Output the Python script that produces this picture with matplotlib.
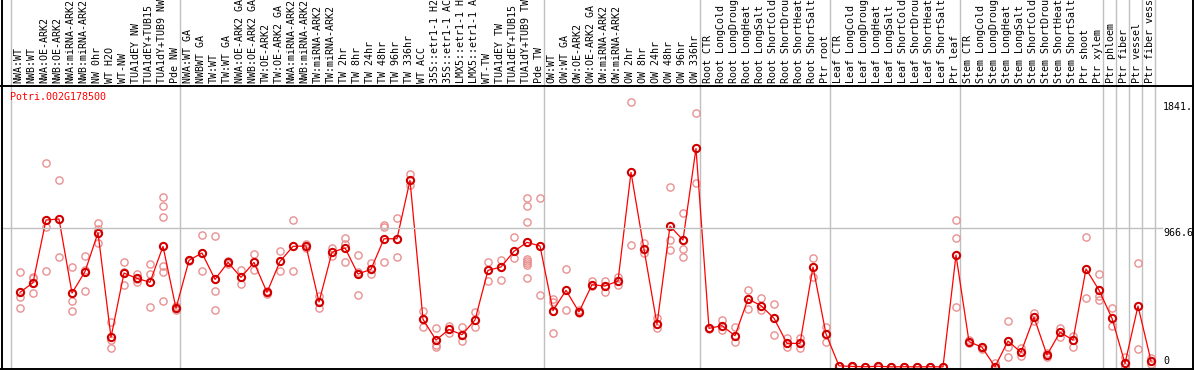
import matplotlib
matplotlib.use("Agg")
import matplotlib.pyplot as plt
from matplotlib.lines import Line2D
from matplotlib.transforms import blended_transform_factory

# sample labels, grouped by tissue/experiment
labels = ["NWA:WT", "NWB:WT", "NWA:OE-ARK2", "NWB:OE-ARK2", "NWA:miRNA-ARK2", "NWB:miRNA-ARK2",
          "NW 0hr", "WT H2O", "WT-NW", "TUA1dEY NW", "TUA1dEY+TUB15 NW", "TUA1dY+TUB9 NW", "Pde NW",
          "NWA:WT GA", "NWBWT GA", "TW:WT", "TW:WT GA", "NWA:OE-ARK2 GA", "NWB:OE-ARK2 GA",
          "TW:OE-ARK2", "TW:OE-ARK2 GA", "NWA:miRNA-ARK2", "NWB:miRNA-ARK2", "TW:miRNA-ARK2",
          "TW:miRNA-ARK2", "TW 2hr", "TW 8hr", "TW 24hr", "TW 48hr", "TW 96hr", "TW 336hr", "WT ACC",
          "35S::etr1-1 H2O", "35S::etr1-1 ACC", "LMX5::etr1-1 H2O", "LMX5::etr1-1 ACC", "WT-TW",
          "TUA1dEY TW", "TUA1dEY+TUB15 TW", "TUA1dY+TUB9 TW", "Pde TW",
          "OW:WT", "OW:WT GA", "OW:OE-ARK2", "OW:OE-ARK2 GA", "OW:miRNA-ARK2", "OW:miRNA-ARK2",
          "OW 2hr", "OW 8hr", "OW 24hr", "OW 48hr", "OW 96hr", "OW 336hr",
          "Root CTR", "Root LongCold", "Root LongDrought", "Root LongHeat", "Root LongSalt",
          "Root ShortCold", "Root ShortDrought", "Root ShortHeat", "Root ShortSalt", "Ptr root",
          "Leaf CTR", "Leaf LongCold", "Leaf LongDrought", "Leaf LongHeat", "Leaf LongSalt",
          "Leaf ShortCold", "Leaf ShortDrought", "Leaf ShortHeat", "Leaf ShortSalt", "Ptr leaf",
          "Stem CTR", "Stem LongCold", "Stem LongDrought", "Stem LongHeat", "Stem LongSalt",
          "Stem ShortCold", "Stem ShortDrought", "Stem ShortHeat", "Stem ShortSalt", "Ptr shoot",
          "Ptr xylem", "Ptr phloem", "Ptr fiber", "Ptr vessel", "Ptr fiber vessel"]
group_sizes = [13, 28, 12, 10, 10, 11, 1, 1, 1, 1]

means = [518, 585, 1020, 1027, 513, 662, 932, 206, 652, 615, 588, 837, 407,
         740, 791, 608, 726, 622, 726, 518, 733, 837, 840, 451, 796, 826, 645, 678, 890,
         890, 1295, 331, 187, 261, 224, 326, 671, 694, 803, 865, 840,
         391, 532, 382, 571, 562, 597, 1351, 817, 296, 978, 881, 1517,
         268, 287, 217, 472, 426, 338, 164, 164, 694, 229,
         8, 4, 2, 5, 1, 2, 1, 2, 1, 777,
         176, 137, 2, 180, 102, 345, 83, 241, 187, 680, 534,
         338, 25, 423, 42]

reps = [[657, 484, 407], [627, 617, 511], [1413, 969, 664], [1298, 763], [692, 456, 389],
        [770, 673, 527], [997, 958, 858], [315, 187, 130], [726, 569, 660], [643, 592, 610],
        [715, 643, 414], [1180, 1115, 1041, 701, 661, 458], [420, 395],
        [745, 735], [914, 664], [909, 527, 396], [735, 718], [671, 574], [784, 671], [507, 530],
        [803, 664], [1020, 663], [854, 826], [493, 407], [824, 770], [893, 855, 731],
        [777, 658, 500], [720, 643], [983, 970, 728], [1034, 763], [1337, 1265], [389, 275],
        [268, 153, 140], [284, 234], [280, 178], [384, 280], [731, 594], [742, 601], [904, 754],
        [1170, 1119, 1006, 750, 735, 720, 705, 615], [1170, 500],
        [470, 450, 234], [678, 396], [398, 372], [599, 560], [599, 523], [627, 569],
        [1841, 847], [858, 789], [338, 268], [1247, 881, 812], [1066, 817, 766], [1760, 1275],
        [272, 264], [326, 260], [275, 176], [534, 400], [477, 396], [435, 222], [199, 140],
        [199, 135], [754, 627], [275, 171],
        [10, 5], [6, 3], [3, 1], [7, 3], [2, 1], [3, 1], [2, 1], [3, 1], [2, 1], [1020, 893, 414],
        [190, 165], [130, 125], [25, 0], [319, 141, 71], [130, 75], [372, 320], [100, 70],
        [268, 210], [215, 141], [902, 477], [643, 493, 465],
        [407, 284], [70, 3], [724, 125], [65, 20]]

W, H = 1194, 370
fig = plt.figure(figsize=(W / 100, H / 100), dpi=100)
ax = fig.add_axes([0, 0, 1, 1])
ax.set_axis_off()

# pixel layout: x = 20 + 13*i, value 0 at y=367, 966.6 at y=227.7
k = (367 - 227.7) / 966.6
ax.set_xlim(-20 / 13, (W - 20) / 13)
ax.set_ylim(-(H - 367) / k, 367 / k)

mono = "DejaVu Sans Mono"
fs = 7.2

def fx(px):
    return px / W

def fy(py):
    return 1 - py / H

# group separators
start = 0
for n in group_sizes:
    ax.axvline(start - 0.7, color="#c0c0c0", lw=1.0, zorder=1)
    start += n
ax.axvline(start - 0.7, color="#c0c0c0", lw=1.0, zorder=1)

# gridline at 966.6
fig.add_artist(Line2D([fx(1), fx(1162)], [fy(227.7), fy(227.7)], color="#c0c0c0", lw=1.0))

# frame lines
for xs, ys in [([0, W], [85.5, 85.5]), ([0, W], [368.5, 368.5]),
               ([1.5, 1.5], [0, H]), ([1193, 1193], [0, H])]:
    fig.add_artist(Line2D([fx(xs[0]), fx(xs[1])], [fy(ys[0]), fy(ys[1])], color="black", lw=1.4))

# replicates
for i, r in enumerate(reps):
    ax.plot([i] * len(r), r, "o", ms=5.2, mfc="none", mec="#e99090", mew=1.0, zorder=2)

# means
idx = list(range(len(means)))
ax.plot(idx, means, "-", color="red", lw=0.9, zorder=3)
ax.plot(idx, means, "o", ms=5.2, mfc="none", mec="#d00000", mew=1.5, zorder=4)

# sample labels along the top
tr = blended_transform_factory(ax.transData, fig.transFigure)
for i, lab in enumerate(labels):
    ax.text(i - 0.1, fy(83), lab, rotation=90, ha="center", va="bottom",
            family=mono, fontsize=fs, transform=tr, clip_on=False)

fig.text(fx(10), fy(97), "Potri.002G178500", color="red", family=mono, fontsize=fs,
         ha="left", va="center")

# value labels on the right
fig.text(fx(1163), fy(102), "1841.", family=mono, fontsize=fs, ha="left", va="top")
fig.text(fx(1163), fy(228.5), "966.6", family=mono, fontsize=fs, ha="left", va="top")
fig.text(fx(1163), fy(366), "0", family=mono, fontsize=fs, ha="left", va="bottom")

fig.savefig("out.png", dpi=100)
